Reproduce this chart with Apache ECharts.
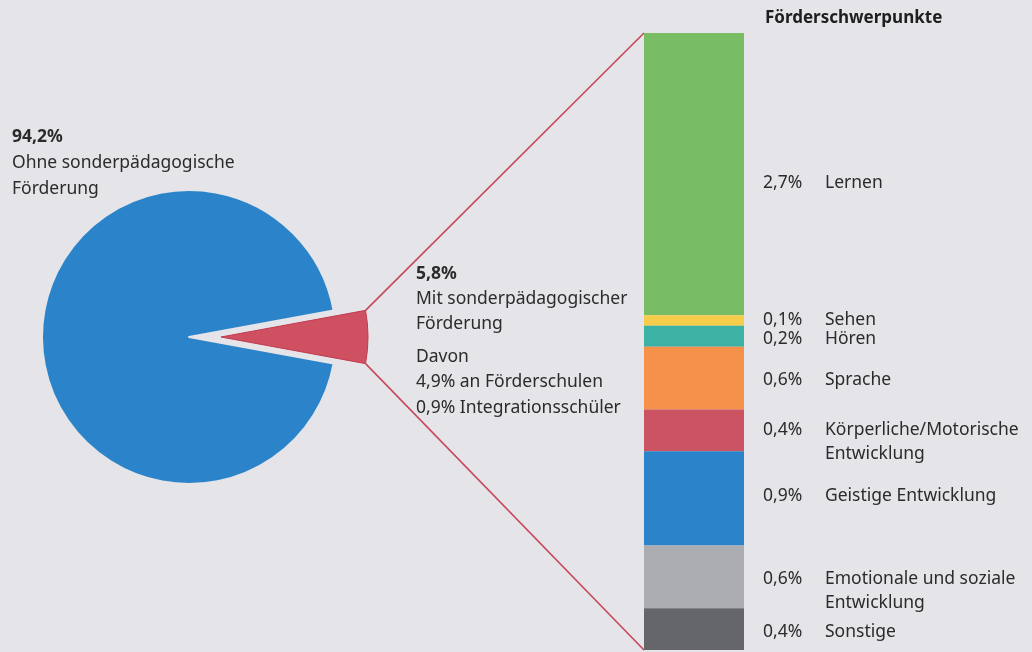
<!DOCTYPE html>
<html><head><meta charset="utf-8">
<script src="https://cdn.jsdelivr.net/npm/echarts@6/dist/echarts.min.js"></script>
<style>html,body{margin:0;padding:0;background:#e4e4e9;}#c{width:1032px;height:652px;}</style>
</head><body><div id="c"></div>
<script>
// ---- data ----
const pieNames = ['Mit sonderpädagogischer Förderung', 'Ohne sonderpädagogische Förderung'];
const pieValues = [5.8, 94.2];
const categories = ['Lernen', 'Sehen', 'Hören', 'Sprache', 'Körperliche/Motorische\nEntwicklung', 'Geistige Entwicklung', 'Emotionale und soziale\nEntwicklung', 'Sonstige'];
const values = [2.7, 0.1, 0.2, 0.6, 0.4, 0.9, 0.6, 0.4];
const barTitle = 'Förderschwerpunkte';
const leftText = ['94,2%', 'Ohne sonderpädagogische', 'Förderung'];
const midText1 = ['5,8%', 'Mit sonderpädagogischer', 'Förderung'];
const midText2 = ['Davon', '4,9% an Förderschulen', '0,9% Integrationsschüler'];

// ---- styles / layout ----
const FONT = 'Noto Sans';
const FS = 17.5;
const TXT = '#2b2b2b';
const barColors = ['#78bd63', '#f6cd4b', '#3bb2a4', '#f59148', '#cc5362', '#2b84c9', '#acadb1', '#646669'];
const pieColors = ['#cf5060', '#2b84c9'];
const labelOffsets = [9, -1, 3, 2, 12, -2, 14, 3];
const GRID = { left: 644, top: 33, width: 100, height: 617 };
const PIE_C = [189, 337], PIE_R = 147, PIE_OFF = 32;

const fmt = v => v.toFixed(1).replace('.', ',') + '%';
const pieTotal = pieValues.reduce((a, b) => a + b, 0);
const barTotal = values.reduce((a, b) => a + b, 0);
const halfAngle = pieValues[0] / pieTotal * 180;

const chart = echarts.init(document.getElementById('c'), null, { renderer: 'canvas' });

const barSeries = values.map((v, i) => {
  const lines = categories[i].split('\n');
  let f = '{p|' + fmt(v) + '}{n|' + lines[0] + '}';
  for (let k = 1; k < lines.length; k++) f += '\n{p|}{n|' + lines[k] + '}';
  return {
    type: 'bar', name: categories[i], stack: 'all', barWidth: '100%',
    data: [v], itemStyle: { color: barColors[i] },
    label: {
      show: true, position: 'right', distance: 19, formatter: f,
      offset: [0, labelOffsets[i]],
      rich: {
        p: { width: 62, fontFamily: FONT, fontSize: FS, color: TXT, lineHeight: 24 },
        n: { fontFamily: FONT, fontSize: FS, color: TXT, lineHeight: 24 }
      }
    }
  };
});

function block(lines, left, top, lh, boldFirst) {
  const t = lines.map((l, i) => (i === 0 && boldFirst ? '{b|' : '{n|') + l + '}').join('\n');
  return {
    text: t, left: left, top: top, padding: 0,
    textStyle: {
      fontWeight: 'normal',
      rich: {
        b: { fontFamily: FONT, fontSize: FS, fontWeight: 'bold', color: TXT, lineHeight: lh },
        n: { fontFamily: FONT, fontSize: FS, fontWeight: 'normal', color: TXT, lineHeight: lh }
      }
    }
  };
}

chart.setOption({
  backgroundColor: '#e4e4e9',
  animation: false,
  title: [
    block(leftText, 12, 124, 26, true),
    block(midText1, 416, 262, 25, true),
    block(midText2, 416, 344, 25.5, false),
    { text: barTitle, left: 765, top: 10, padding: 0,
      textStyle: { fontFamily: FONT, fontSize: 17, fontWeight: 'bold', color: '#1e1e1e' } }
  ],
  grid: GRID,
  xAxis: { type: 'category', data: ['x'], show: false },
  yAxis: { type: 'value', min: 0, max: barTotal, inverse: true, show: false },
  series: [
    {
      type: 'pie', center: PIE_C, radius: PIE_R, startAngle: halfAngle, clockwise: true,
      selectedMode: 'single', selectedOffset: PIE_OFF, label: { show: false }, labelLine: { show: false },
      emphasis: { disabled: true },
      data: pieValues.map((v, i) => ({
        name: pieNames[i], value: v, selected: i === 0,
        itemStyle: { color: pieColors[i], borderColor: i === 0 ? '#c23b50' : '#e4e4e9', borderWidth: i === 0 ? 1 : 2 }
      }))
    }
  ].concat(barSeries)
});

// connector lines: from red slice arc ends to the bar's left corners
const a = halfAngle * Math.PI / 180;
const apex = [PIE_C[0] + PIE_OFF, PIE_C[1]];
const p1 = [apex[0] + PIE_R * Math.cos(a), apex[1] - PIE_R * Math.sin(a)];
const p2 = [apex[0] + PIE_R * Math.cos(a), apex[1] + PIE_R * Math.sin(a)];
const yTop = chart.convertToPixel({ yAxisIndex: 0 }, 0);
const yBot = chart.convertToPixel({ yAxisIndex: 0 }, barTotal);
const xL = GRID.left;
chart.setOption({
  graphic: [
    { type: 'line', shape: { x1: p1[0], y1: p1[1], x2: xL, y2: yTop }, style: { stroke: '#c9475c', lineWidth: 1.6 }, z: 1 },
    { type: 'line', shape: { x1: p2[0], y1: p2[1], x2: xL, y2: yBot }, style: { stroke: '#c9475c', lineWidth: 1.6 }, z: 1 }
  ]
});
</script></body></html>
